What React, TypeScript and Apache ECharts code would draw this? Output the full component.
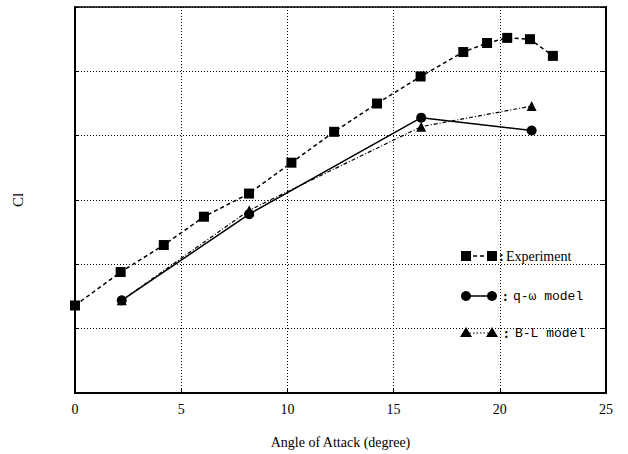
import React, { useEffect, useRef } from "react";
import * as echarts from "echarts";

const xTicks = [0, 5, 10, 15, 20, 25];

const expAlpha = [0, 2.15, 4.18, 6.07, 8.19, 10.19, 12.2, 14.22, 16.27, 18.28, 19.4, 20.35, 21.42, 22.5];
const expCl = [0.18, 0.44, 0.65, 0.87, 1.05, 1.29, 1.53, 1.75, 1.96, 2.15, 2.22, 2.26, 2.25, 2.12];

const qwAlpha = [2.2, 8.2, 16.3, 21.5];
const qwCl = [0.22, 0.89, 1.64, 1.54];

const blAlpha = [2.2, 8.2, 16.3, 21.5];
const blCl = [0.22, 0.92, 1.57, 1.73];

const legendNames = ["Experiment", "q-\u03c9 model", "B-L model"];

const SERIF = "'Liberation Serif', 'DejaVu Serif', serif";
const MONO = "'Liberation Mono', 'DejaVu Sans Mono', monospace";

function pairs(xs: number[], ys: number[]) {
  return xs.map((x, i) => [x, ys[i]]);
}

export default function App() {
  const ref = useRef<HTMLDivElement>(null);
  useEffect(() => {
    if (!ref.current) return;
    const chart = echarts.init(ref.current, null, { renderer: "svg" });
    const gridLine = { show: true, lineStyle: { color: "#000", type: [1, 2] as any, width: 1 } };
    const lx1 = 466, lx2 = 492;
    const rows = [256, 296, 333];
    const legendGraphics: any[] = [];
    legendGraphics.push(
      { type: "line", shape: { x1: lx1, y1: rows[0], x2: lx2, y2: rows[0] }, style: { stroke: "#000", lineWidth: 1.5, lineDash: [4, 3] } },
      { type: "rect", shape: { x: lx1 - 5, y: rows[0] - 5, width: 10, height: 10 }, style: { fill: "#000" } },
      { type: "rect", shape: { x: lx2 - 5, y: rows[0] - 5, width: 10, height: 10 }, style: { fill: "#000" } },
      { type: "text", x: 499, y: rows[0], style: { text: ":", font: "bold 14px " + SERIF, fill: "#000", verticalAlign: "middle" } },
      { type: "text", x: 506, y: rows[0], style: { text: legendNames[0], font: "14px " + SERIF, fill: "#000", verticalAlign: "middle" } }
    );
    legendGraphics.push(
      { type: "line", shape: { x1: lx1, y1: rows[1], x2: lx2, y2: rows[1] }, style: { stroke: "#000", lineWidth: 1.5 } },
      { type: "circle", shape: { cx: lx1, cy: rows[1], r: 5 }, style: { fill: "#000" } },
      { type: "circle", shape: { cx: lx2, cy: rows[1], r: 5 }, style: { fill: "#000" } },
      { type: "text", x: 503, y: rows[1], style: { text: ":", font: "bold 14px " + SERIF, fill: "#000", verticalAlign: "middle" } },
      { type: "text", x: 513, y: rows[1], style: { text: legendNames[1], font: "13px " + MONO, fill: "#000", verticalAlign: "middle" } }
    );
    legendGraphics.push(
      { type: "line", shape: { x1: lx1, y1: rows[2], x2: lx2, y2: rows[2] }, style: { stroke: "#000", lineWidth: 1.2, lineDash: [1.5, 2] } },
      { type: "polygon", shape: { points: [[lx1, rows[2] - 6], [lx1 - 6, rows[2] + 4], [lx1 + 6, rows[2] + 4]] }, style: { fill: "#000" } },
      { type: "polygon", shape: { points: [[lx2, rows[2] - 6], [lx2 - 6, rows[2] + 4], [lx2 + 6, rows[2] + 4]] }, style: { fill: "#000" } },
      { type: "text", x: 504, y: rows[2], style: { text: ":", font: "bold 14px " + SERIF, fill: "#000", verticalAlign: "middle" } },
      { type: "text", x: 515, y: rows[2], style: { text: legendNames[2], font: "13px " + MONO, fill: "#000", verticalAlign: "middle" } }
    );

    chart.setOption({
      animation: false,
      backgroundColor: "#fff",
      grid: { left: 75, right: 22, top: 7, bottom: 59, show: true, borderColor: "#000", borderWidth: 1.5, backgroundColor: "transparent" },
      xAxis: [
        {
          type: "value",
          min: xTicks[0],
          max: xTicks[xTicks.length - 1],
          interval: 5,
          name: "Angle of Attack (degree)",
          nameLocation: "middle",
          nameGap: 42,
          nameTextStyle: { fontFamily: SERIF, fontSize: 14, color: "#000" },
          axisLine: { show: true, onZero: false, lineStyle: { color: "#000", width: 2 } },
          axisTick: { show: true, inside: true, length: 4, lineStyle: { color: "#000" } },
          axisLabel: { fontFamily: SERIF, fontSize: 14, color: "#000", margin: 9 },
          splitLine: gridLine,
        },
      ],
      yAxis: [
        {
          type: "value",
          min: -0.5,
          max: 2.5,
          interval: 0.5,
          name: "Cl",
          nameLocation: "middle",
          nameGap: 50,
          nameRotate: 90,
          nameTextStyle: { fontFamily: SERIF, fontSize: 15, color: "#000" },
          axisLine: { show: true, onZero: false, lineStyle: { color: "#000", width: 2 } },
          axisTick: { show: true, inside: true, length: 4, lineStyle: { color: "#000" } },
          axisLabel: { show: false },
          splitLine: gridLine,
        },
        {
          type: "value",
          position: "right",
          min: -0.5,
          max: 2.5,
          interval: 0.5,
          axisLine: { show: true, onZero: false, lineStyle: { color: "#000", width: 2 } },
          axisTick: { show: true, inside: true, length: 5, lineStyle: { color: "#000" } },
          axisLabel: { show: false },
          splitLine: { show: false },
        },
      ],
      series: [
        {
          name: legendNames[0],
          type: "line",
          data: pairs(expAlpha, expCl),
          symbol: "rect",
          symbolSize: 10,
          itemStyle: { color: "#000" },
          lineStyle: { color: "#000", width: 1.5, type: [4, 3] as any },
          z: 3,
        },
        {
          name: legendNames[1],
          type: "line",
          data: pairs(qwAlpha, qwCl),
          symbol: "circle",
          symbolSize: 10,
          itemStyle: { color: "#000" },
          lineStyle: { color: "#000", width: 1.5, type: "solid" },
          z: 3,
        },
        {
          name: legendNames[2],
          type: "line",
          data: pairs(blAlpha, blCl),
          symbol: "triangle",
          symbolSize: 10,
          itemStyle: { color: "#000" },
          lineStyle: { color: "#000", width: 1.2, type: [4, 2, 1, 2] as any },
          z: 2,
        },
      ],
      graphic: legendGraphics,
    });
    return () => chart.dispose();
  }, []);
  return <div ref={ref} style={{ width: 628, height: 454, position: "absolute", left: 0, top: 0 }} />;
}
